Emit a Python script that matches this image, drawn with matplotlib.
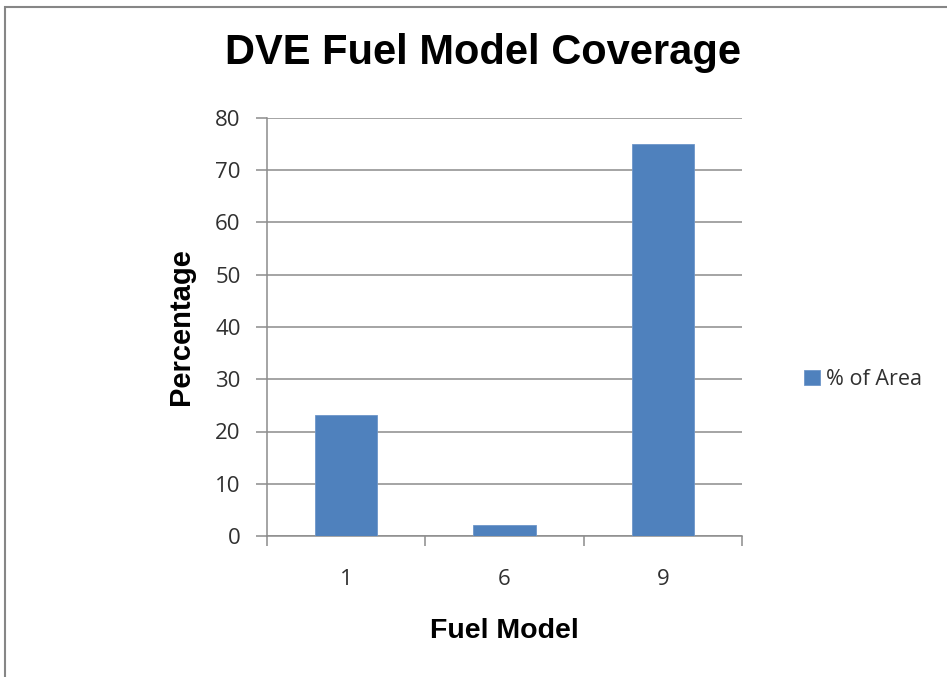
import matplotlib.pyplot as plt
from matplotlib.patches import Rectangle

fuel_models = ["1", "6", "9"]
pct_area = [23.1, 2.05, 75.0]
y_ticks = [0, 10, 20, 30, 40, 50, 60, 70, 80]

W, H = 947, 677
fig = plt.figure(figsize=(W / 100, H / 100), dpi=100)
# outer chart frame (only top/left edges show in the original crop)
fig.patches.append(Rectangle((5 / W, -0.1), 1.2, 1.1 - 7 / H,
                             transform=fig.transFigure, fill=False,
                             edgecolor="#868686", linewidth=1.5))

ax = fig.add_axes([267 / W, 1 - 536 / H, (742 - 267) / W, (536 - 118) / H])
x = list(range(len(fuel_models)))
bars = ax.bar(x, pct_area, width=0.394, color="#4F81BD", edgecolor="#6d96c9",
              linewidth=0.6, zorder=3, label="% of Area")

ax.set_xlim(-0.5, 2.5)
ax.set_ylim(0, 80)
ax.set_yticks(y_ticks)
ax.yaxis.grid(True, color="#8c8c8c", linewidth=1.1, zorder=0)
ax.set_axisbelow(True)

ax.set_xticks([-0.5, 0.5, 1.5, 2.5])
ax.set_xticklabels([])
ax.set_xticks(x, minor=True)
ax.set_xticklabels(fuel_models, minor=True, fontsize=16, family="Open Sans", color="#303030")
ax.tick_params(axis="x", which="major", length=7, color="#8c8c8c", width=1.1)
ax.tick_params(axis="x", which="minor", length=0, pad=24)
ax.tick_params(axis="y", length=8, color="#8c8c8c", width=1.1, labelsize=16, pad=11,
               labelcolor="#303030")
for lab in ax.get_yticklabels():
    lab.set_family("Open Sans")

for s in ["top", "right"]:
    ax.spines[s].set_visible(False)
for s in ["left", "bottom"]:
    ax.spines[s].set_color("#8c8c8c")
    ax.spines[s].set_linewidth(1.1)

fig.text(483 / W, 1 - 53 / H, "DVE Fuel Model Coverage", ha="center", va="center",
         fontsize=30, fontweight="bold", family="Liberation Sans")
fig.text(181 / W, 1 - 327 / H, "Percentage", rotation=90, ha="center", va="center",
         fontsize=21, fontweight="bold", family="Liberation Sans")
fig.text(504 / W, 1 - 631 / H, "Fuel Model", ha="center", va="center",
         fontsize=20.5, fontweight="bold", family="Liberation Sans")

leg = fig.legend(handles=[bars], labels=["% of Area"], loc="center left",
                 bbox_to_anchor=(798 / W, 1 - 380 / H), frameon=False,
                 borderaxespad=0, borderpad=0.3,
                 prop={"family": "Open Sans", "size": 15.5},
                 handlelength=0.7, handleheight=0.7, handletextpad=0.3,
                 labelcolor="#303030")

fig.savefig("out.png", dpi=100)
